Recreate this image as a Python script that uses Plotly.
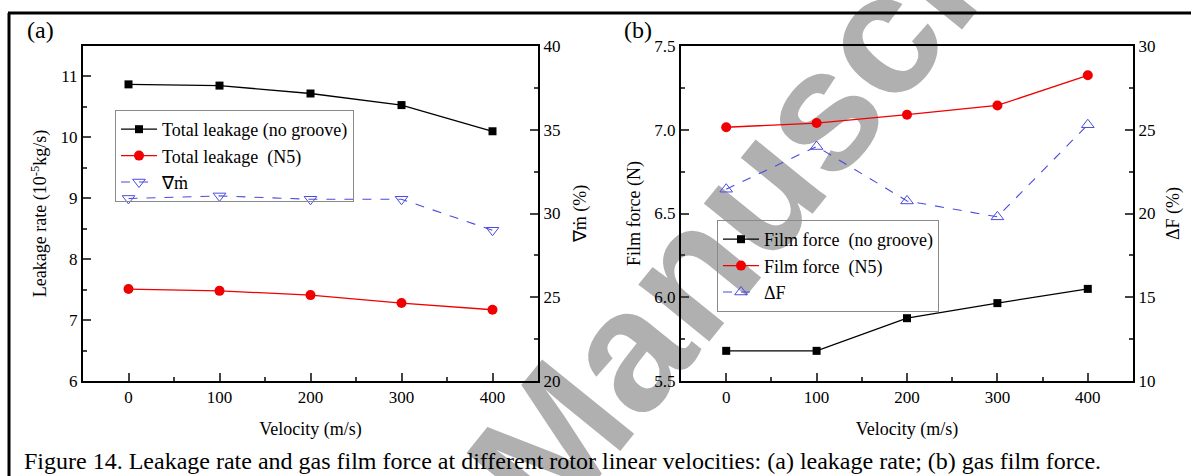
import plotly.graph_objects as go

# Rotor linear velocity (m/s)
velocity = [0, 100, 200, 300, 400]

# (a) leakage rate, 10^-5 kg/s, and relative reduction (%)
leak_no_groove = [10.87, 10.85, 10.72, 10.53, 10.10]
leak_n5 = [7.51, 7.48, 7.41, 7.28, 7.17]
leak_reduction = [30.9, 31.05, 30.85, 30.85, 29.0]

# (b) gas film force, N, and relative increase (%)
force_no_groove = [5.68, 5.68, 5.875, 5.965, 6.05]
force_n5 = [7.015, 7.04, 7.09, 7.145, 7.325]
force_increase = [21.45, 24.0, 20.75, 19.8, 25.3]

W, H = 1191, 476
FONT = "Times New Roman"
BLUE = "#4b4be0"


def px_x(p):
    return p / W


def px_y(p):
    return 1 - p / H


TOP, BOTTOM = 46, 381
A_LEFT, A_RIGHT = 83, 538
B_LEFT, B_RIGHT = 681, 1133
ydom = [px_y(BOTTOM), px_y(TOP)]

fig = go.Figure()

# ---- panel (a) ----
fig.add_trace(go.Scatter(
    x=velocity, y=leak_no_groove, name="Total leakage (no groove)",
    mode="lines+markers", line=dict(color="black", width=1.3),
    marker=dict(symbol="square", size=8, color="black"),
    xaxis="x", yaxis="y", legend="legend"))
fig.add_trace(go.Scatter(
    x=velocity, y=leak_n5, name="Total leakage \u00a0(N5)",
    mode="lines+markers", line=dict(color="#f00000", width=1.3),
    marker=dict(symbol="circle", size=10, color="#f00000"),
    xaxis="x", yaxis="y", legend="legend"))
fig.add_trace(go.Scatter(
    x=velocity, y=leak_reduction, name="\u2207\u1e41",
    mode="lines+markers", line=dict(color=BLUE, width=1.1, dash="dash"),
    marker=dict(symbol="triangle-down-open", size=11, color=BLUE,
                line=dict(width=1)),
    xaxis="x", yaxis="y2", legend="legend"))

# ---- panel (b) ----
fig.add_trace(go.Scatter(
    x=velocity, y=force_no_groove, name="Film force \u00a0(no groove)",
    mode="lines+markers", line=dict(color="black", width=1.3),
    marker=dict(symbol="square", size=8, color="black"),
    xaxis="x2", yaxis="y3", legend="legend2"))
fig.add_trace(go.Scatter(
    x=velocity, y=force_n5, name="Film force \u00a0(N5)",
    mode="lines+markers", line=dict(color="#f00000", width=1.3),
    marker=dict(symbol="circle", size=10, color="#f00000"),
    xaxis="x2", yaxis="y3", legend="legend2"))
fig.add_trace(go.Scatter(
    x=velocity, y=force_increase, name="\u0394F",
    mode="lines+markers", line=dict(color=BLUE, width=1.1, dash="dash"),
    marker=dict(symbol="triangle-up-open", size=11, color=BLUE,
                line=dict(width=1)),
    xaxis="x2", yaxis="y4", legend="legend2"))

tickfont = dict(family=FONT, size=17, color="black")
titlefont = dict(family=FONT, size=18, color="black")


def xaxis_style(domain, anchor):
    return dict(
        domain=domain, anchor=anchor, range=[-50, 450],
        tickvals=velocity, ticks="inside", ticklen=8, tickwidth=2,
        minor=dict(ticks="inside", ticklen=4, tickwidth=2, dtick=50,
                   tick0=0, showgrid=False),
        showline=True, linecolor="black", linewidth=2, mirror=True,
        showgrid=False, zeroline=False, automargin=False,
        tickfont=tickfont,
        title=dict(text="Velocity (m/s)", font=titlefont, standoff=16))


def yaxis_style(anchor, rng, dtick, minor, title, side="left",
                overlaying=None, fmt=None, standoff=9):
    d = dict(
        anchor=anchor, domain=ydom, range=rng, dtick=dtick, side=side,
        ticks="inside", ticklen=8, tickwidth=2,
        minor=dict(ticks="inside", ticklen=4, tickwidth=2, dtick=minor,
                   showgrid=False),
        showline=True, linecolor="black", linewidth=2,
        showgrid=False, zeroline=False, automargin=False,
        tickfont=tickfont,
        title=dict(text=title, font=titlefont, standoff=standoff))
    if overlaying:
        d["overlaying"] = overlaying
    if fmt:
        d["tickformat"] = fmt
    return d


legend_common = dict(
    bgcolor="rgba(0,0,0,0)", bordercolor="#8a8a8a", borderwidth=1,
    font=dict(family=FONT, size=18, color="black"),
    xanchor="left", yanchor="top", tracegroupgap=0, itemwidth=36)

fig.update_layout(
    width=W, height=H,
    margin=dict(l=0, r=0, t=0, b=0),
    paper_bgcolor="white", plot_bgcolor="rgba(0,0,0,0)",
    template="none",
    font=dict(family=FONT, color="black"),
    showlegend=True,
    xaxis=xaxis_style([px_x(A_LEFT), px_x(A_RIGHT)], "y"),
    xaxis2=xaxis_style([px_x(B_LEFT), px_x(B_RIGHT)], "y3"),
    yaxis=yaxis_style("x", [6, 11.5], 1, 0.5,
                      "Leakage rate (10<sup>-5</sup>kg/s)"),
    yaxis2=yaxis_style("x", [20, 40], 5, 2.5, "\u2207\u1e41 (%)",
                       side="right", overlaying="y", standoff=14),
    yaxis3=yaxis_style("x2", [5.5, 7.5], 0.5, 0.25, "Film force (N)",
                       fmt=".1f"),
    yaxis4=yaxis_style("x2", [10, 30], 5, 2.5, "\u0394F (%)",
                       side="right", overlaying="y3", standoff=12),
    legend=dict(x=px_x(115), y=px_y(110), **legend_common),
    legend2=dict(x=px_x(717), y=px_y(220), **legend_common),
)

# panel letters and caption
fig.add_annotation(text="(a)", x=px_x(25), y=px_y(30), xref="paper",
                   yref="paper", xanchor="left", yanchor="middle",
                   showarrow=False, font=dict(family=FONT, size=24))
fig.add_annotation(text="(b)", x=px_x(622), y=px_y(30), xref="paper",
                   yref="paper", xanchor="left", yanchor="middle",
                   showarrow=False, font=dict(family=FONT, size=24))
fig.add_annotation(
    text="Figure 14. Leakage rate and gas film force at different rotor "
         "linear velocities: (a) leakage rate; (b) gas film force.",
    x=px_x(22), y=px_y(461), xref="paper", yref="paper",
    xanchor="left", yanchor="middle", showarrow=False,
    font=dict(family=FONT, size=24, color="black"))

# page frame
fig.add_shape(type="line", xref="paper", yref="paper",
              x0=px_x(8), x1=1, y0=px_y(13), y1=px_y(13),
              line=dict(color="black", width=3))
fig.add_shape(type="line", xref="paper", yref="paper",
              x0=px_x(9), x1=px_x(9), y0=px_y(13), y1=0,
              line=dict(color="black", width=3))

# diagonal watermark behind the data
cx, cy = 781, 132
fig.add_shape(type="rect", xref="paper", yref="paper", layer="below",
              x0=px_x(cx - 1), x1=px_x(cx + 1),
              y0=px_y(cy + 1), y1=px_y(cy - 1),
              line=dict(width=0), fillcolor="rgba(0,0,0,0)",
              label=dict(text="Manuscript", textangle=-51,
                         textposition="middle center",
                         font=dict(family="Liberation Sans", size=172,
                                   weight="bold", color="#b0b0b0")))

fig.write_html("out.html")
